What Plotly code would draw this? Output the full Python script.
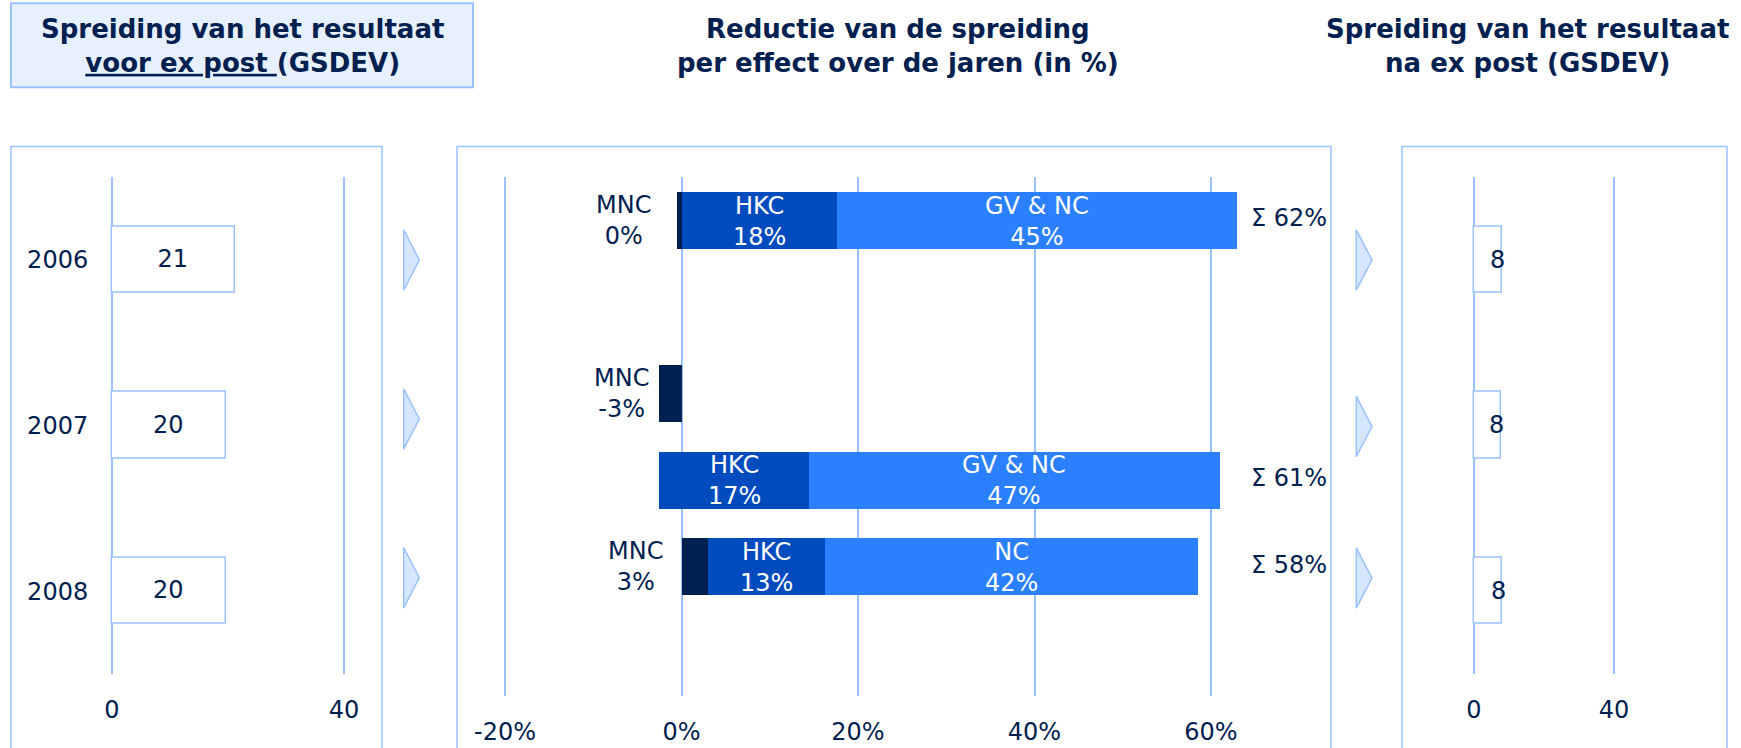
import plotly.graph_objects as go

# ---------------- data ----------------
years = ["2006", "2007", "2008"]
gsdev_before = [21.2, 19.6, 19.6]
gsdev_before_labels = ["21", "20", "20"]
gsdev_after = [7.9, 7.6, 8.1]
gsdev_after_labels = ["8", "8", "8"]

mnc = [-0.5, -2.5, 3.0]
hkc = [17.6, 16.9, 13.3]
gvnc = [45.3, 46.6, 42.2]
mnc_labels = ["0%", "-3%", "3%"]
hkc_labels = ["18%", "17%", "13%"]
gvnc_labels = ["45%", "47%", "42%"]
gvnc_names = ["GV & NC", "GV & NC", "NC"]
total_labels = ["\u03a3 62%", "\u03a3 61%", "\u03a3 58%"]
split_row = [False, True, False]   # 2007: MNC shown on its own row (waterfall)

left_ticks = [0, 40]
mid_ticks = [-20, 0, 20, 40, 60]
mid_tick_text = ["-20%", "0%", "20%", "40%", "60%"]
right_ticks = [0, 40]

# ---------------- style ----------------
W, H = 1741, 748
NAVY = "#00204F"
C_MNC = "#002050"
C_HKC = "#004CBF"
C_GV = "#2A80FF"
LINE = "#99C2FF"
BOXFILL = "#E6F0FF"
ARROWFILL = "#D6E6FF"
FONT = "DejaVu Sans"
FS = 24
mnc_label_shift = [-29, -31, -17]


def X(px):
    return px / W


def Y(py):
    return 1 - py / H


def xrange(a, b, zero, scale):
    return [(a - zero) / scale, (b - zero) / scale]


# center panel row slots
row_mnc = [0, 2, 4]
row_main = [0, 3, 4]
hkc_base = [m if s else max(m, 0) for m, s in zip(mnc, split_row)]
gv_base = [b + h for b, h in zip(hkc_base, hkc)]

fig = go.Figure()

# left panel
fig.add_trace(go.Bar(
    y=years, x=gsdev_before, orientation="h", width=0.4,
    marker=dict(color="white", line=dict(color=LINE, width=1.5)),
    text=gsdev_before_labels, textposition="inside", insidetextanchor="middle",
    textfont=dict(color=NAVY, size=FS, family=FONT),
    xaxis="x", yaxis="y", showlegend=False, hoverinfo="skip"))

# center panel
fig.add_trace(go.Bar(
    y=row_mnc, x=mnc, base=[0, 0, 0], orientation="h", width=0.657,
    marker=dict(color=C_MNC, line=dict(width=0)),
    xaxis="x2", yaxis="y2", showlegend=False, hoverinfo="skip"))
fig.add_trace(go.Bar(
    y=row_main, x=hkc, base=hkc_base, orientation="h", width=0.657,
    marker=dict(color=C_HKC, line=dict(width=0)),
    xaxis="x2", yaxis="y2", showlegend=False, hoverinfo="skip"))
fig.add_trace(go.Bar(
    y=row_main, x=gvnc, base=gv_base, orientation="h", width=0.657,
    marker=dict(color=C_GV, line=dict(width=0)),
    xaxis="x2", yaxis="y2", showlegend=False, hoverinfo="skip"))

# right panel
fig.add_trace(go.Bar(
    y=years, x=gsdev_after, orientation="h", width=0.4,
    marker=dict(color="white", line=dict(color=LINE, width=1.5)),
    xaxis="x3", yaxis="y3", showlegend=False, hoverinfo="skip"))

axis_font = dict(family=FONT, size=FS, color=NAVY)
common_x = dict(showgrid=True, gridcolor=LINE, gridwidth=1.5, zeroline=False,
                showline=False, ticks="outside", ticklen=14,
                tickcolor="rgba(0,0,0,0)", tickfont=axis_font, fixedrange=True)

fig.update_layout(
    width=W, height=H,
    margin=dict(l=0, r=0, t=0, b=0),
    paper_bgcolor="white", plot_bgcolor="rgba(0,0,0,0)",
    barmode="overlay", bargap=0,
    font=dict(family=FONT, color=NAVY, size=FS),
    xaxis=dict(domain=[X(95), X(370)], range=xrange(95, 370, 112, 5.8),
               tickvals=left_ticks, anchor="y", **common_x),
    yaxis=dict(domain=[Y(674), Y(176.8)], type="category",
               categoryorder="array", categoryarray=years, range=[2.5, -0.5],
               showgrid=False, zeroline=False, showline=False, ticks="outside",
               ticklen=1, tickcolor="rgba(0,0,0,0)",
               tickfont=axis_font, anchor="x"),
    xaxis2=dict(domain=[X(470), X(1322)], range=xrange(470, 1322, 681.5, 8.825),
                tickvals=mid_ticks, ticktext=mid_tick_text, anchor="y2", **common_x),
    yaxis2=dict(domain=[Y(696.4), Y(176.8)], range=[5.5, -0.5],
                showgrid=False, zeroline=False, showline=False,
                showticklabels=False, ticks="", anchor="x2"),
    xaxis3=dict(domain=[X(1420), X(1712)], range=xrange(1420, 1712, 1474, 3.5),
                tickvals=right_ticks, anchor="y3", **common_x),
    yaxis3=dict(domain=[Y(674), Y(176.8)], type="category",
                categoryorder="array", categoryarray=years, range=[2.5, -0.5],
                showgrid=False, zeroline=False, showline=False,
                showticklabels=False, ticks="", anchor="x3"),
)

shapes = []
# title box
shapes.append(dict(type="rect", xref="paper", yref="paper",
                   x0=X(11), x1=X(473), y0=Y(87.3), y1=Y(3.3),
                   fillcolor=BOXFILL, line=dict(color=LINE, width=2), layer="below"))
# panel frames (open at the bottom)
for a, b in [(11, 382), (457, 1331), (1402, 1727)]:
    shapes.append(dict(type="path", xref="paper", yref="paper",
                       path=f"M {X(a)},{Y(760)} L {X(a)},{Y(146.6)} L {X(b)},{Y(146.6)} L {X(b)},{Y(760)}",
                       line=dict(color=LINE, width=1.5), layer="below"))
# arrows
for xa, xb, centers in [(403.7, 419.3, [260, 419, 577.7]),
                        (1356.3, 1372, [260, 426.5, 578])]:
    for c in centers:
        shapes.append(dict(type="path", xref="paper", yref="paper",
                           path=f"M {X(xa)},{Y(c - 30.2)} L {X(xb)},{Y(c)} L {X(xa)},{Y(c + 30.2)} Z",
                           fillcolor=ARROWFILL, line=dict(color=LINE, width=1.5)))
fig.update_layout(shapes=shapes)

ann = []
title_font = dict(family=FONT, size=26, color=NAVY)
ann.append(dict(xref="paper", yref="paper", x=X(242), y=Y(46), xanchor="center",
                yanchor="middle", showarrow=False, font=title_font,
                text="<b>Spreiding van het resultaat<br><u>voor ex post </u>(GSDEV)</b>"))
ann.append(dict(xref="paper", yref="paper", x=X(898), y=Y(46), xanchor="center",
                yanchor="middle", showarrow=False, font=title_font,
                text="<b>Reductie van de spreiding<br>per effect over de jaren (in %)</b>"))
ann.append(dict(xref="paper", yref="paper", x=X(1527), y=Y(46), xanchor="center",
                yanchor="middle", showarrow=False, font=title_font,
                text="<b>Spreiding van het resultaat<br>na ex post (GSDEV)</b>"))

lab_font = dict(family=FONT, size=FS, color=NAVY)
white_font = dict(family=FONT, size=FS, color="white")
for i in range(3):
    ann.append(dict(xref="x2", yref="y2", x=0, y=row_mnc[i],
                    xanchor="right", yanchor="middle", xshift=mnc_label_shift[i],
                    showarrow=False, font=lab_font, text=f"MNC<br>{mnc_labels[i]}"))
    ann.append(dict(xref="x2", yref="y2", x=hkc_base[i] + hkc[i] / 2, y=row_main[i],
                    xanchor="center", yanchor="middle", yshift=-1, showarrow=False,
                    font=white_font, text=f"HKC<br>{hkc_labels[i]}"))
    ann.append(dict(xref="x2", yref="y2", x=gv_base[i] + gvnc[i] / 2, y=row_main[i],
                    xanchor="center", yanchor="middle", yshift=-1, showarrow=False,
                    font=white_font, text=f"{gvnc_names[i]}<br>{gvnc_labels[i]}"))
    ann.append(dict(xref="paper", yref="y2", x=X(1249), y=row_main[i],
                    xanchor="left", yanchor="middle", yshift=2, showarrow=False,
                    font=lab_font, text=total_labels[i]))
    ann.append(dict(xref="x3", yref="y3", x=gsdev_after[i], y=i,
                    xanchor="center", yanchor="middle", xshift=-4, showarrow=False,
                    font=lab_font, text=gsdev_after_labels[i]))
fig.update_layout(annotations=ann)

fig.write_html("out.html", config={"displayModeBar": False},
               post_script="document.body.style.margin='0px';document.body.style.overflow='hidden';")
